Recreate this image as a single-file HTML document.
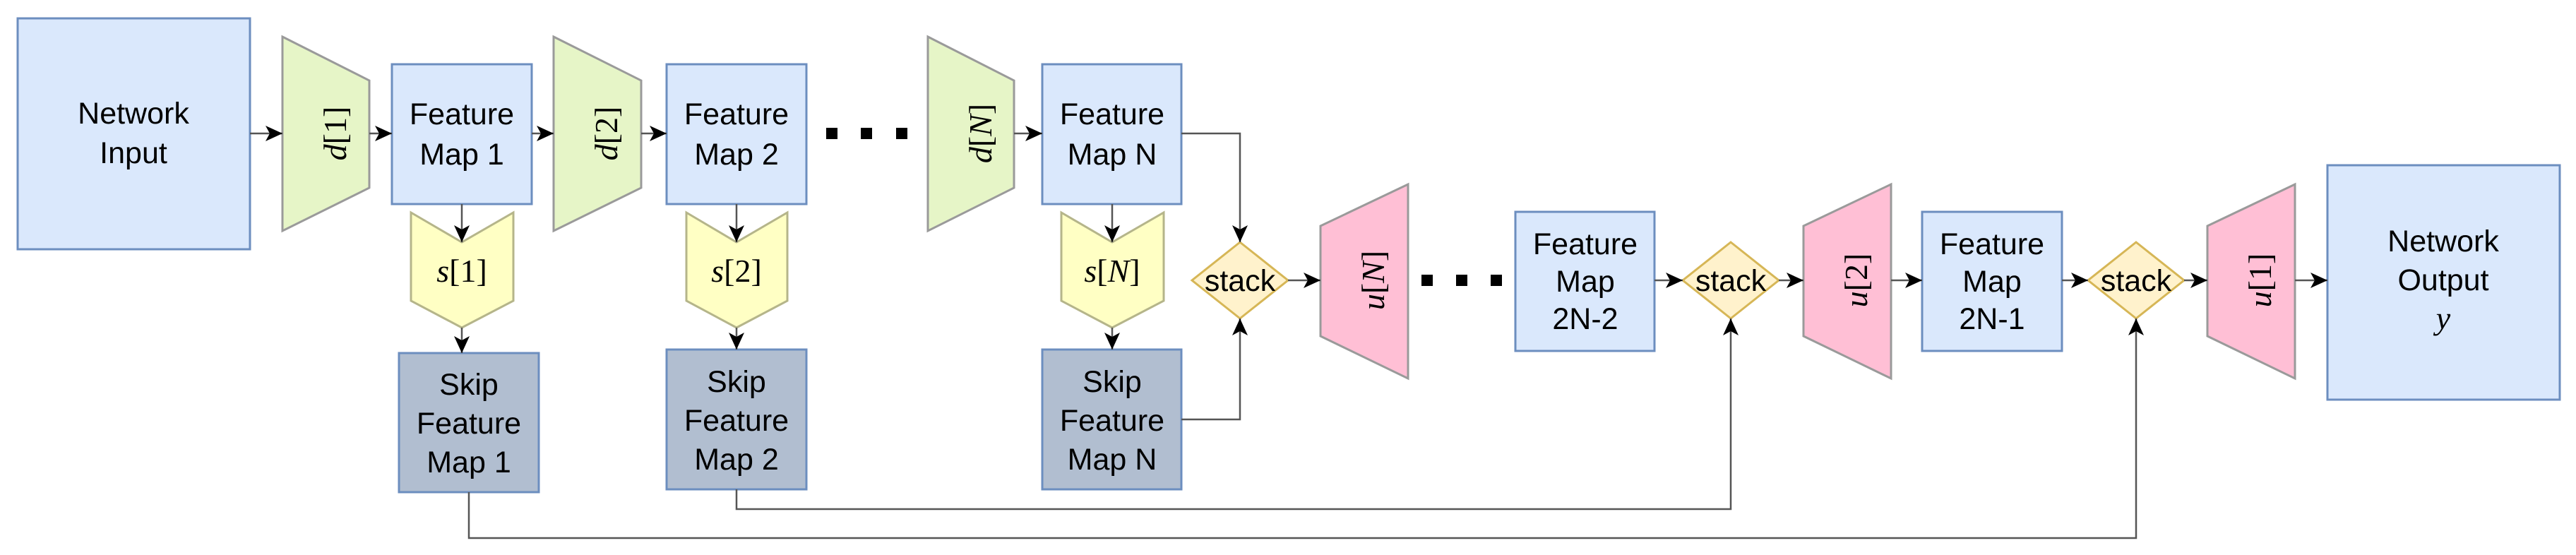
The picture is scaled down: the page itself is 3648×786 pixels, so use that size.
<!DOCTYPE html>
<html><head><meta charset="utf-8">
<style>
html,body{margin:0;padding:0;background:#fff;}
svg{display:block;}
.t{font-family:"Liberation Sans",Arial,sans-serif;font-size:43px;fill:#000;text-anchor:middle;}
.m{font-family:"Liberation Serif","DejaVu Serif",serif;font-size:46px;fill:#000;text-anchor:middle;}
.mi{font-style:italic;}
.ln{stroke:#555;stroke-width:2.5;fill:none;}
</style></head>
<body>
<svg width="3648" height="786" viewBox="0 0 3648 786" xmlns="http://www.w3.org/2000/svg">
<defs>
<marker id="a" markerUnits="userSpaceOnUse" markerWidth="26" markerHeight="22" refX="24" refY="11" orient="auto">
<path d="M0,0 L24,11 L0,22 L6,11 Z" fill="#000"/>
</marker>
</defs>

<rect x="25" y="26" width="329" height="327" fill="#dae8fc" stroke="#6c8ebf" stroke-width="3"/>
<text class="t" x="189" y="175">Network</text>
<text class="t" x="189" y="231">Input</text>

<polygon points="400,52 523,114 523,266 400,327" fill="#e6f5c7" stroke="#9a9a9a" stroke-width="3"/>
<polygon points="784,52 908,114 908,266 784,327" fill="#e6f5c7" stroke="#9a9a9a" stroke-width="3"/>
<polygon points="1314,52 1436,114 1436,266 1314,327" fill="#e6f5c7" stroke="#9a9a9a" stroke-width="3"/>
<text class="m" transform="translate(476,189) rotate(-90)" y="14"><tspan class="mi">d</tspan>[1]</text>
<text class="m" transform="translate(860,189) rotate(-90)" y="14"><tspan class="mi">d</tspan>[2]</text>
<text class="m" transform="translate(1390,189) rotate(-90)" y="14"><tspan class="mi">d</tspan>[<tspan class="mi">N</tspan>]</text>

<rect x="555" y="91" width="198" height="198" fill="#dae8fc" stroke="#6c8ebf" stroke-width="3"/>
<text class="t" x="654" y="176">Feature</text><text class="t" x="654" y="233">Map 1</text>
<rect x="944" y="91" width="198" height="198" fill="#dae8fc" stroke="#6c8ebf" stroke-width="3"/>
<text class="t" x="1043" y="176">Feature</text><text class="t" x="1043" y="233">Map 2</text>
<rect x="1476" y="91" width="197" height="198" fill="#dae8fc" stroke="#6c8ebf" stroke-width="3"/>
<text class="t" x="1575" y="176">Feature</text><text class="t" x="1575" y="233">Map N</text>

<rect x="1170" y="181" width="16" height="16" fill="#000"/>
<rect x="1219" y="181" width="16" height="16" fill="#000"/>
<rect x="1269" y="181" width="16" height="16" fill="#000"/>
<rect x="2013" y="389" width="16" height="16" fill="#000"/>
<rect x="2062" y="389" width="16" height="16" fill="#000"/>
<rect x="2111" y="389" width="16" height="16" fill="#000"/>

<polygon points="582,301 654,343 727,301 727,426 654,464 582,426" fill="#ffffc4" stroke="#b5b58a" stroke-width="3"/>
<polygon points="972,301 1043,343 1115,301 1115,426 1043,464 972,426" fill="#ffffc4" stroke="#b5b58a" stroke-width="3"/>
<polygon points="1503,301 1575,343 1648,301 1648,426 1575,464 1503,426" fill="#ffffc4" stroke="#b5b58a" stroke-width="3"/>
<text class="m" x="654" y="399"><tspan class="mi">s</tspan>[1]</text>
<text class="m" x="1043" y="399"><tspan class="mi">s</tspan>[2]</text>
<text class="m" x="1575" y="399"><tspan class="mi">s</tspan>[<tspan class="mi">N</tspan>]</text>

<rect x="565" y="500" width="198" height="197" fill="#b1bed0" stroke="#6c8ebf" stroke-width="3"/>
<text class="t" x="664" y="559">Skip</text><text class="t" x="664" y="614">Feature</text><text class="t" x="664" y="669">Map 1</text>
<rect x="944" y="495" width="198" height="198" fill="#b1bed0" stroke="#6c8ebf" stroke-width="3"/>
<text class="t" x="1043" y="555">Skip</text><text class="t" x="1043" y="610">Feature</text><text class="t" x="1043" y="665">Map 2</text>
<rect x="1476" y="495" width="197" height="198" fill="#b1bed0" stroke="#6c8ebf" stroke-width="3"/>
<text class="t" x="1575" y="555">Skip</text><text class="t" x="1575" y="610">Feature</text><text class="t" x="1575" y="665">Map N</text>

<polygon points="1756,343 1824,397 1756,451 1688,397" fill="#fff2cc" stroke="#d6b656" stroke-width="3"/>
<text class="t" x="1756" y="412">stack</text>
<polygon points="2451,343 2519,397 2451,451 2383,397" fill="#fff2cc" stroke="#d6b656" stroke-width="3"/>
<text class="t" x="2451" y="412">stack</text>
<polygon points="3025,343 3093,397 3025,451 2957,397" fill="#fff2cc" stroke="#d6b656" stroke-width="3"/>
<text class="t" x="3025" y="412">stack</text>

<polygon points="1870,320 1994,261 1994,536 1870,476" fill="#ffbfd5" stroke="#9a9a9a" stroke-width="3"/>
<polygon points="2554,320 2678,261 2678,536 2554,476" fill="#ffbfd5" stroke="#9a9a9a" stroke-width="3"/>
<polygon points="3126,320 3250,261 3250,536 3126,476" fill="#ffbfd5" stroke="#9a9a9a" stroke-width="3"/>
<text class="m" transform="translate(1946,397) rotate(-90)" y="14"><tspan class="mi">u</tspan>[<tspan class="mi">N</tspan>]</text>
<text class="m" transform="translate(2630,397) rotate(-90)" y="14"><tspan class="mi">u</tspan>[2]</text>
<text class="m" transform="translate(3202,397) rotate(-90)" y="14"><tspan class="mi">u</tspan>[1]</text>

<rect x="2146" y="300" width="197" height="197" fill="#dae8fc" stroke="#6c8ebf" stroke-width="3"/>
<text class="t" x="2245" y="360">Feature</text><text class="t" x="2245" y="413">Map</text><text class="t" x="2245" y="466">2N-2</text>
<rect x="2722" y="300" width="198" height="197" fill="#dae8fc" stroke="#6c8ebf" stroke-width="3"/>
<text class="t" x="2821" y="360">Feature</text><text class="t" x="2821" y="413">Map</text><text class="t" x="2821" y="466">2N-1</text>

<rect x="3296" y="234" width="329" height="332" fill="#dae8fc" stroke="#6c8ebf" stroke-width="3"/>
<text class="t" x="3460" y="356">Network</text>
<text class="t" x="3460" y="411">Output</text>
<text class="m mi" x="3460" y="466">y</text>

<line class="ln" x1="354" y1="189" x2="400" y2="189" marker-end="url(#a)"/>
<line class="ln" x1="523" y1="189" x2="555" y2="189" marker-end="url(#a)"/>
<line class="ln" x1="753" y1="189" x2="784" y2="189" marker-end="url(#a)"/>
<line class="ln" x1="908" y1="189" x2="944" y2="189" marker-end="url(#a)"/>
<line class="ln" x1="1436" y1="189" x2="1476" y2="189" marker-end="url(#a)"/>

<line class="ln" x1="654" y1="289" x2="654" y2="343" marker-end="url(#a)"/>
<line class="ln" x1="654" y1="464" x2="654" y2="500" marker-end="url(#a)"/>
<line class="ln" x1="1043" y1="289" x2="1043" y2="343" marker-end="url(#a)"/>
<line class="ln" x1="1043" y1="464" x2="1043" y2="495" marker-end="url(#a)"/>
<line class="ln" x1="1575" y1="289" x2="1575" y2="343" marker-end="url(#a)"/>
<line class="ln" x1="1575" y1="464" x2="1575" y2="495" marker-end="url(#a)"/>

<polyline class="ln" points="1673,189 1756,189 1756,343" marker-end="url(#a)"/>
<polyline class="ln" points="1673,594 1756,594 1756,451" marker-end="url(#a)"/>
<line class="ln" x1="1824" y1="397" x2="1870" y2="397" marker-end="url(#a)"/>
<line class="ln" x1="2343" y1="397" x2="2383" y2="397" marker-end="url(#a)"/>
<line class="ln" x1="2519" y1="397" x2="2554" y2="397" marker-end="url(#a)"/>
<line class="ln" x1="2678" y1="397" x2="2722" y2="397" marker-end="url(#a)"/>
<line class="ln" x1="2920" y1="397" x2="2957" y2="397" marker-end="url(#a)"/>
<line class="ln" x1="3093" y1="397" x2="3126" y2="397" marker-end="url(#a)"/>
<line class="ln" x1="3250" y1="397" x2="3296" y2="397" marker-end="url(#a)"/>

<polyline class="ln" points="1043,693 1043,721 2451,721 2451,451" marker-end="url(#a)"/>
<polyline class="ln" points="664,697 664,762 3025,762 3025,451" marker-end="url(#a)"/>
</svg>
</body></html>
